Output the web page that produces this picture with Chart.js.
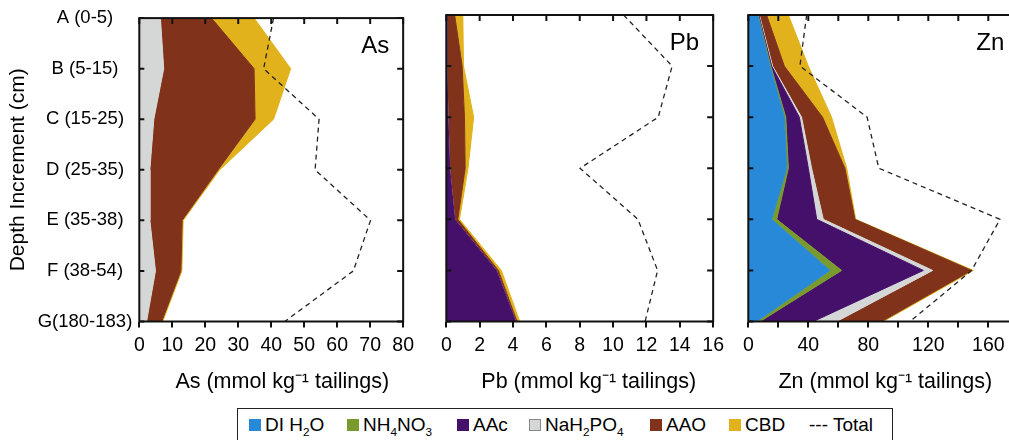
<!DOCTYPE html>
<html>
<head>
<meta charset="utf-8">
<script src="https://cdn.jsdelivr.net/npm/chart.js@4.4.1/dist/chart.umd.min.js"></script>
<style>
  html, body { margin: 0; padding: 0; width: 1009px; height: 440px; overflow: hidden; background: #fff; }
  body { position: relative; font-family: "Liberation Sans", Arial, sans-serif; }
  .panel { position: absolute; top: 0; height: 400px; width: 300px; }
  #legend { position: absolute; left: 237px; top: 408px; width: 656px; height: 40px; border: 1.5px solid #222; box-sizing: border-box; }
  .item { position: absolute; top: 3.5px; font-size: 19px; line-height: 24px; white-space: nowrap; color: #000; }
  .sw { display: inline-block; width: 12px; height: 12px; margin-right: 4px; }
  sub { font-size: 0.62em; vertical-align: -0.45em; line-height: 0; }
</style>
</head>
<body>
<div class="panel" style="left:0;width:420px"><canvas id="cAs" width="420" height="400"></canvas></div>
<div class="panel" style="left:430px"><canvas id="cPb" width="300" height="400"></canvas></div>
<div class="panel" style="left:735px"><canvas id="cZn" width="300" height="400"></canvas></div>

<div id="legend">
  <span class="item" style="left:11px"><span class="sw" style="background:#2889d8"></span>DI H<sub>2</sub>O</span>
  <span class="item" style="left:109px"><span class="sw" style="background:#799a2c"></span>NH<sub>4</sub>NO<sub>3</sub></span>
  <span class="item" style="left:219px"><span class="sw" style="background:#45106a"></span>AAc</span>
  <span class="item" style="left:291px"><span class="sw" style="background:#d5d6d6;box-sizing:border-box;border:1px solid #888"></span>NaH<sub>2</sub>PO<sub>4</sub></span>
  <span class="item" style="left:412px"><span class="sw" style="background:#80331a"></span>AAO</span>
  <span class="item" style="left:491px"><span class="sw" style="background:#e1b21b"></span>CBD</span>
  <span class="item" style="left:571px">--- Total</span>
</div>

<script>
// depth increments (top to bottom)
const depths = ['A (0-5)', 'B (5-15)', 'C (15-25)', 'D (25-35)', 'E (35-38)', 'F (38-54)', 'G(180-183)'];
const fractions = ['DI H2O', 'NH4NO3', 'AAc', 'NaH2PO4', 'AAO', 'CBD'];
const colors = ['#2889d8', '#799a2c', '#45106a', '#d5d6d6', '#80331a', '#e1b21b'];

// As (mmol/kg)
const asDI = [0, 0, 0, 0, 0, 0, 0];
const asNH4NO3 = [0, 0, 0, 0, 0, 0, 0];
const asAAc = [0, 0, 0, 0, 0, 0, 0];
const asNaH2PO4 = [6.4, 7.4, 4.4, 3.2, 3.2, 4.9, 2.2];
const asAAO = [15.5, 27.4, 30.7, 20.7, 9.8, 7.7, 4.6];
const asCBD = [12.9, 11.1, 5.6, 0.5, 0.3, 0.3, 0.3];
const asTotal = [40.7, 37.7, 54.5, 53.3, 70.1, 64.9, 44.1];

// Pb (mmol/kg)
const pbDI = [0, 0, 0, 0, 0, 0, 0];
const pbNH4NO3 = [0, 0, 0, 0, 0, 0, 0];
const pbAAc = [0.02, 0.03, 0.1, 0.2, 0.5, 3.0, 4.16];
const pbNaH2PO4 = [0, 0, 0, 0, 0, 0, 0];
const pbAAO = [0.48, 0.92, 0.99, 0.93, 0.19, 0.12, 0.08];
const pbCBD = [0.49, 0.08, 0.55, 0.17, 0.1, 0.18, 0.16];
const pbTotal = [10.63, 13.54, 12.71, 8.02, 11.49, 12.67, 11.92];

// Zn (mmol/kg)
const znDI = [6.2, 14.4, 24.0, 25.6, 15.6, 54.4, 5.6];
const znNH4NO3 = [0.4, 0.6, 1.0, 1.1, 3.3, 7.8, 2.2];
const znAAc = [0.4, 0.6, 9.0, 13.3, 26.7, 54.5, 35.5];
const znNaH2PO4 = [0.4, 0.6, 1.5, 2.2, 4.4, 6.2, 15.6];
const znAAO = [4.8, 7.8, 14.0, 22.2, 21.1, 26.0, 30.0];
const znCBD = [14.5, 16.0, 6.0, 1.2, 0.5, 1.1, 1.1];
const znTotal = [38.9, 34.4, 79.2, 87.0, 167.8, 148.9, 107.8];

Chart.defaults.font.family = '"Liberation Sans", Arial, sans-serif';
Chart.defaults.color = '#000';

// box frame, inward ticks, element name and unit title
const framePlugin = {
  id: 'frame',
  afterDatasetsDraw(chart, args, opts) {
    const { ctx, chartArea: a, scales: { x, y } } = chart;
    ctx.save();
    ctx.strokeStyle = '#111';
    ctx.lineWidth = 2;
    ctx.beginPath();
    x.ticks.forEach((t) => {
      const px = x.getPixelForValue(t.value);
      ctx.moveTo(px, a.top);
      ctx.lineTo(px, a.top + 6);
    });
    y.ticks.forEach((t, i) => {
      const py = y.getPixelForTick(i);
      ctx.moveTo(a.right, py);
      ctx.lineTo(a.right - 6, py);
      ctx.moveTo(a.left, py);
      ctx.lineTo(a.left + 5, py);
    });
    ctx.stroke();
    ctx.strokeRect(a.left, a.top, a.right - a.left, a.bottom - a.top);
    ctx.fillStyle = '#000';
    ctx.textBaseline = 'alphabetic';
    ctx.font = '24px "Liberation Sans", Arial, sans-serif';
    ctx.textAlign = 'right';
    ctx.fillText(opts.text, a.right - 14, a.top + 35);
    ctx.font = '21.5px "Liberation Sans", Arial, sans-serif';
    ctx.textAlign = 'center';
    ctx.fillText(`${opts.text} (mmol kg⁻¹ tailings)`, (a.left + a.right) / 2 + opts.shift, x.bottom - 12);
    ctx.restore();
  },
};

const makeChart = (id, { series, total, max, step, labelEvery, name, shift, padding, yWidth, showDepths }) => {
  const datasets = series.map((vals, i) => ({
    label: fractions[i],
    data: vals,
    backgroundColor: colors[i],
    borderColor: colors[i],
    borderWidth: 1,
    fill: i === 0 ? 'origin' : '-1',
    pointRadius: 0,
    tension: 0,
    order: 1,
  }));
  datasets.push({
    label: 'Total',
    data: total,
    stack: 'total',
    borderColor: '#222',
    borderWidth: 1.3,
    borderDash: [5, 4],
    fill: false,
    pointRadius: 0,
    tension: 0,
    order: 0,
  });

  return new Chart(document.getElementById(id), {
    type: 'line',
    data: { labels: depths, datasets },
    plugins: [framePlugin],
    options: {
      indexAxis: 'y',
      responsive: false,
      animation: false,
      devicePixelRatio: 1,
      layout: { padding },
      plugins: {
        legend: { display: false },
        tooltip: { enabled: false },
        frame: { text: name, shift },
      },
      scales: {
        x: {
          type: 'linear',
          position: 'bottom',
          min: 0,
          max,
          stacked: true,
          border: { display: false },
          grid: { drawOnChartArea: false, drawTicks: true, tickLength: 6, color: '#111', lineWidth: 2 },
          ticks: {
            stepSize: step,
            autoSkip: false,
            maxRotation: 0,
            padding: 6,
            font: { size: 19.5 },
            callback: (v) => (v % labelEvery === 0 ? v : ''),
          },
          afterFit: (s) => { s.height = 78.5; },
        },
        y: {
          type: 'category',
          offset: false,
          border: { display: false },
          grid: { display: false, drawTicks: false },
          ticks: { display: showDepths, autoSkip: false, padding: 7, crossAlign: 'center', font: { size: 18.5 } },
          title: {
            display: showDepths,
            text: 'Depth Increment (cm)',
            font: { size: 21 },
            padding: { top: 6, bottom: 0 },
          },
          afterFit: (s) => { s.width = yWidth; },
        },
      },
    },
  });
};

makeChart('cAs', {
  series: [asDI, asNH4NO3, asAAc, asNaH2PO4, asAAO, asCBD],
  total: asTotal,
  max: 80, step: 10, labelEvery: 10, name: 'As', shift: 11,
  padding: { top: 15, right: 10.7, left: 0, bottom: 0 },
  yWidth: 139.3, showDepths: true,
});
makeChart('cPb', {
  series: [pbDI, pbNH4NO3, pbAAc, pbNaH2PO4, pbAAO, pbCBD],
  total: pbTotal,
  max: 16, step: 2, labelEvery: 2, name: 'Pb', shift: 9,
  padding: { top: 15, right: 14.7, left: 16.3, bottom: 0 },
  yWidth: 0, showDepths: false,
});
makeChart('cZn', {
  series: [znDI, znNH4NO3, znAAc, znNaH2PO4, znAAO, znCBD],
  total: znTotal,
  max: 180, step: 20, labelEvery: 40, name: 'Zn', shift: 2,
  padding: { top: 15, right: 16.7, left: 13.3, bottom: 0 },
  yWidth: 0, showDepths: false,
});
</script>
</body>
</html>
